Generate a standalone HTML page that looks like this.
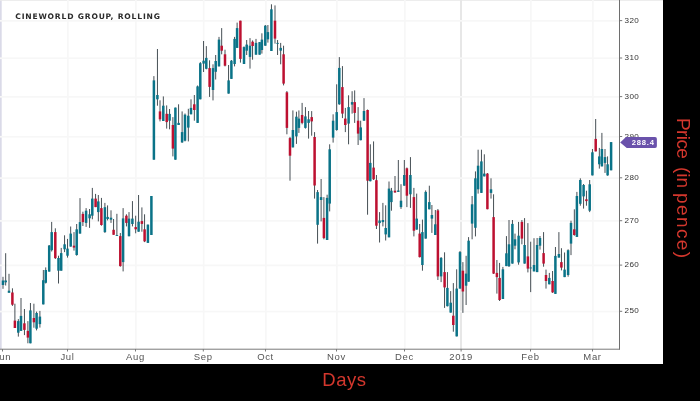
<!DOCTYPE html>
<html><head><meta charset="utf-8"><title>Cineworld Group, Rolling</title>
<style>
html,body{margin:0;padding:0;background:#000;}
body{width:700px;height:401px;overflow:hidden;position:relative;font-family:"Liberation Sans",sans-serif;}
#chart{position:absolute;left:0;top:0;width:663px;height:364px;background:#fff;overflow:hidden;}
#chart svg{position:absolute;left:0;top:0;}
.ttl{position:absolute;left:15.3px;top:10.5px;font-family:"DejaVu Sans","Liberation Sans",sans-serif;font-size:7.6px;font-weight:bold;color:#2b2b2b;letter-spacing:0.8px;white-space:nowrap;line-height:12px;}
.xl{position:absolute;top:351px;width:40px;margin-left:-20px;text-align:center;font-size:9.5px;color:#555;line-height:12px;letter-spacing:0.65px;}
.yl{position:absolute;left:624.6px;font-size:8.1px;color:#333;line-height:10px;height:10px;margin-top:-5.0px;letter-spacing:0.38px;}
.tag{position:absolute;left:620.2px;top:137px;width:36.7px;height:11px;background:#6a52ab;border-radius:0 2px 2px 0;color:#fff;font-size:7.6px;font-weight:bold;line-height:11.3px;text-align:left;letter-spacing:0.8px;box-sizing:border-box;padding-left:11.6px;white-space:nowrap;clip-path:polygon(0 50%,5.8px 0,100% 0,100% 100%,6.6px 100%);}
#days{position:absolute;left:0;width:688.8px;top:369.3px;text-align:center;color:#d4372d;font-size:18.5px;letter-spacing:0.5px;line-height:22px;}
.pv{position:absolute;left:672.2px;width:22px;writing-mode:vertical-rl;white-space:nowrap;color:#d4372d;font-size:19px;line-height:22px;}
</style></head><body>
<div id="chart">
<svg width="663" height="364" viewBox="0 0 663 364">
<rect x="0" y="0" width="1.7" height="349" fill="#dadae8"/><rect x="0" y="0" width="663" height="0.8" fill="#e9e9e9"/><rect x="67.05" y="0" width="1.7" height="349" fill="#f7f7f7"/><rect x="135.05" y="0" width="1.7" height="349" fill="#f7f7f7"/><rect x="202.85" y="0" width="1.7" height="349" fill="#f7f7f7"/><rect x="265.05" y="0" width="1.7" height="349" fill="#f7f7f7"/><rect x="336.05" y="0" width="1.7" height="349" fill="#f7f7f7"/><rect x="404.05" y="0" width="1.7" height="349" fill="#f7f7f7"/><rect x="460.00" y="0" width="2.0" height="349" fill="#e7e7e7"/><rect x="530.05" y="0" width="1.7" height="349" fill="#f7f7f7"/><rect x="592.05" y="0" width="1.7" height="349" fill="#f7f7f7"/><rect x="0" y="20.00" width="619" height="1.7" fill="#f7f7f7"/><rect x="0" y="57.39" width="619" height="1.7" fill="#f7f7f7"/><rect x="0" y="96.00" width="619" height="1.7" fill="#f7f7f7"/><rect x="0" y="135.92" width="619" height="1.7" fill="#f7f7f7"/><rect x="0" y="177.25" width="619" height="1.7" fill="#f7f7f7"/><rect x="0" y="220.07" width="619" height="1.7" fill="#f7f7f7"/><rect x="0" y="264.52" width="619" height="1.7" fill="#f7f7f7"/><rect x="0" y="310.70" width="619" height="1.7" fill="#f7f7f7"/><rect x="2.55" y="276.8" width="0.9" height="12.0" fill="#333d43"/><rect x="1.75" y="280.5" width="2.5" height="4.5" fill="#0a7388"/><rect x="5.25" y="253.2" width="0.9" height="32.3" fill="#333d43"/><rect x="4.45" y="280.5" width="2.5" height="1.8" fill="#0a7388"/><rect x="8.55" y="273.8" width="0.9" height="18.8" fill="#333d43"/><rect x="7.75" y="290.7" width="2.5" height="2.1" fill="#0a7388"/><rect x="11.95" y="288.3" width="0.9" height="17.6" fill="#333d43"/><rect x="11.15" y="292.5" width="2.5" height="12.2" fill="#bd1030"/><rect x="14.45" y="303.7" width="0.9" height="24.3" fill="#333d43"/><rect x="13.65" y="320.6" width="2.5" height="7.4" fill="#bd1030"/><rect x="17.85" y="319.1" width="0.9" height="17.5" fill="#333d43"/><rect x="17.05" y="321.1" width="2.5" height="11.6" fill="#0a7388"/><rect x="20.55" y="298.0" width="0.9" height="32.9" fill="#333d43"/><rect x="19.75" y="315.9" width="2.5" height="15.0" fill="#0a7388"/><rect x="23.95" y="309.0" width="0.9" height="26.1" fill="#333d43"/><rect x="23.15" y="323.3" width="2.5" height="6.6" fill="#bd1030"/><rect x="27.45" y="321.1" width="0.9" height="22.2" fill="#333d43"/><rect x="26.65" y="330.9" width="2.5" height="6.7" fill="#bd1030"/><rect x="29.95" y="303.0" width="0.9" height="40.3" fill="#333d43"/><rect x="29.15" y="310.4" width="2.5" height="32.9" fill="#0a7388"/><rect x="33.45" y="303.7" width="0.9" height="24.0" fill="#333d43"/><rect x="32.65" y="318.0" width="2.5" height="4.3" fill="#bd1030"/><rect x="36.15" y="311.6" width="0.9" height="18.8" fill="#333d43"/><rect x="35.35" y="313.0" width="2.5" height="15.7" fill="#0a7388"/><rect x="39.45" y="310.9" width="0.9" height="16.7" fill="#333d43"/><rect x="38.65" y="316.6" width="2.5" height="7.5" fill="#0a7388"/><rect x="42.85" y="270.0" width="0.9" height="34.4" fill="#333d43"/><rect x="42.05" y="280.2" width="2.5" height="24.2" fill="#0a7388"/><rect x="45.30" y="267.4" width="0.9" height="16.1" fill="#333d43"/><rect x="44.50" y="270.0" width="2.5" height="12.8" fill="#0a7388"/><rect x="48.75" y="245.0" width="0.9" height="26.6" fill="#333d43"/><rect x="47.95" y="245.5" width="2.5" height="26.1" fill="#0a7388"/><rect x="51.25" y="221.9" width="0.9" height="29.6" fill="#333d43"/><rect x="50.45" y="232.1" width="2.5" height="18.1" fill="#0a7388"/><rect x="54.85" y="228.3" width="0.9" height="30.7" fill="#333d43"/><rect x="54.05" y="232.1" width="2.5" height="26.0" fill="#bd1030"/><rect x="58.05" y="255.7" width="0.9" height="27.8" fill="#333d43"/><rect x="57.25" y="258.0" width="2.5" height="12.7" fill="#0a7388"/><rect x="60.75" y="247.9" width="0.9" height="22.8" fill="#333d43"/><rect x="59.95" y="253.1" width="2.5" height="17.6" fill="#0a7388"/><rect x="64.15" y="235.3" width="0.9" height="16.8" fill="#333d43"/><rect x="63.35" y="244.3" width="2.5" height="5.0" fill="#0a7388"/><rect x="67.05" y="238.9" width="0.9" height="18.7" fill="#333d43"/><rect x="66.25" y="248.6" width="2.5" height="7.1" fill="#0a7388"/><rect x="70.25" y="226.5" width="0.9" height="20.1" fill="#333d43"/><rect x="69.45" y="233.6" width="2.5" height="13.0" fill="#0a7388"/><rect x="73.55" y="232.1" width="0.9" height="18.5" fill="#333d43"/><rect x="72.75" y="245.7" width="2.5" height="1.9" fill="#bd1030"/><rect x="76.25" y="224.0" width="0.9" height="31.7" fill="#333d43"/><rect x="75.45" y="229.3" width="2.5" height="25.7" fill="#0a7388"/><rect x="79.55" y="198.1" width="0.9" height="35.5" fill="#333d43"/><rect x="78.75" y="222.1" width="2.5" height="11.5" fill="#0a7388"/><rect x="82.45" y="211.7" width="0.9" height="14.3" fill="#333d43"/><rect x="81.65" y="213.9" width="2.5" height="8.2" fill="#bd1030"/><rect x="85.65" y="208.1" width="0.9" height="18.8" fill="#333d43"/><rect x="84.85" y="210.7" width="2.5" height="12.2" fill="#0a7388"/><rect x="89.15" y="209.0" width="0.9" height="18.9" fill="#333d43"/><rect x="88.35" y="214.3" width="2.5" height="4.0" fill="#0a7388"/><rect x="91.85" y="187.9" width="0.9" height="31.4" fill="#333d43"/><rect x="91.05" y="198.6" width="2.5" height="17.1" fill="#0a7388"/><rect x="95.15" y="193.9" width="0.9" height="13.2" fill="#333d43"/><rect x="94.35" y="198.6" width="2.5" height="8.5" fill="#bd1030"/><rect x="97.85" y="195.0" width="0.9" height="26.4" fill="#333d43"/><rect x="97.05" y="201.4" width="2.5" height="10.7" fill="#0a7388"/><rect x="100.95" y="197.9" width="0.9" height="27.8" fill="#333d43"/><rect x="100.15" y="208.1" width="2.5" height="16.9" fill="#bd1030"/><rect x="104.45" y="202.9" width="0.9" height="30.0" fill="#333d43"/><rect x="103.65" y="207.2" width="2.5" height="24.9" fill="#0a7388"/><rect x="107.15" y="205.4" width="0.9" height="15.0" fill="#333d43"/><rect x="106.35" y="216.9" width="2.5" height="2.1" fill="#0a7388"/><rect x="110.55" y="210.3" width="0.9" height="12.6" fill="#333d43"/><rect x="109.75" y="217.7" width="2.5" height="2.0" fill="#0a7388"/><rect x="113.15" y="219.0" width="0.9" height="15.8" fill="#333d43"/><rect x="112.35" y="229.8" width="2.5" height="5.0" fill="#bd1030"/><rect x="116.45" y="213.8" width="0.9" height="21.9" fill="#333d43"/><rect x="115.65" y="235.0" width="2.5" height="0.9" fill="#0a7388"/><rect x="119.85" y="233.0" width="0.9" height="33.7" fill="#333d43"/><rect x="119.05" y="236.1" width="2.5" height="30.0" fill="#bd1030"/><rect x="122.65" y="208.1" width="0.9" height="63.3" fill="#333d43"/><rect x="121.85" y="218.4" width="2.5" height="43.7" fill="#0a7388"/><rect x="125.95" y="214.3" width="0.9" height="12.1" fill="#333d43"/><rect x="125.15" y="215.7" width="2.5" height="7.2" fill="#bd1030"/><rect x="128.55" y="212.1" width="0.9" height="24.3" fill="#333d43"/><rect x="127.75" y="218.6" width="2.5" height="17.6" fill="#0a7388"/><rect x="131.95" y="201.1" width="0.9" height="25.3" fill="#333d43"/><rect x="131.15" y="218.6" width="2.5" height="5.4" fill="#0a7388"/><rect x="135.25" y="215.7" width="0.9" height="17.6" fill="#333d43"/><rect x="134.45" y="227.1" width="2.5" height="2.2" fill="#bd1030"/><rect x="138.15" y="195.0" width="0.9" height="36.7" fill="#333d43"/><rect x="137.35" y="221.7" width="2.5" height="10.0" fill="#0a7388"/><rect x="141.45" y="207.4" width="0.9" height="24.3" fill="#333d43"/><rect x="140.65" y="221.1" width="2.5" height="2.8" fill="#bd1030"/><rect x="144.15" y="214.3" width="0.9" height="27.8" fill="#333d43"/><rect x="143.35" y="229.3" width="2.5" height="12.1" fill="#bd1030"/><rect x="147.45" y="224.6" width="0.9" height="18.3" fill="#333d43"/><rect x="146.65" y="224.6" width="2.5" height="18.3" fill="#0a7388"/><rect x="150.95" y="196.0" width="0.9" height="39.0" fill="#333d43"/><rect x="150.15" y="196.0" width="2.5" height="39.0" fill="#0a7388"/><rect x="153.45" y="76.1" width="0.9" height="83.6" fill="#333d43"/><rect x="152.65" y="80.4" width="2.5" height="79.3" fill="#0a7388"/><rect x="156.95" y="49.0" width="0.9" height="56.7" fill="#333d43"/><rect x="156.15" y="95.0" width="2.5" height="4.3" fill="#0a7388"/><rect x="159.55" y="100.3" width="0.9" height="21.1" fill="#333d43"/><rect x="158.75" y="111.4" width="2.5" height="7.9" fill="#bd1030"/><rect x="162.85" y="96.4" width="0.9" height="24.6" fill="#333d43"/><rect x="162.05" y="105.7" width="2.5" height="15.3" fill="#0a7388"/><rect x="166.25" y="105.4" width="0.9" height="23.2" fill="#333d43"/><rect x="165.45" y="113.8" width="2.5" height="8.3" fill="#bd1030"/><rect x="169.15" y="109.0" width="0.9" height="20.3" fill="#333d43"/><rect x="168.35" y="113.9" width="2.5" height="6.8" fill="#0a7388"/><rect x="172.45" y="117.1" width="0.9" height="39.3" fill="#333d43"/><rect x="171.65" y="125.0" width="2.5" height="23.6" fill="#bd1030"/><rect x="174.95" y="107.6" width="0.9" height="52.1" fill="#333d43"/><rect x="174.15" y="107.6" width="2.5" height="52.1" fill="#0a7388"/><rect x="178.15" y="104.3" width="0.9" height="20.7" fill="#333d43"/><rect x="177.35" y="122.9" width="2.5" height="2.1" fill="#0a7388"/><rect x="181.65" y="111.4" width="0.9" height="31.5" fill="#333d43"/><rect x="180.85" y="132.1" width="2.5" height="10.3" fill="#0a7388"/><rect x="184.55" y="113.5" width="0.9" height="27.9" fill="#333d43"/><rect x="183.75" y="114.7" width="2.5" height="26.0" fill="#0a7388"/><rect x="187.85" y="108.8" width="0.9" height="32.6" fill="#333d43"/><rect x="187.05" y="115.7" width="2.5" height="11.9" fill="#0a7388"/><rect x="190.55" y="99.3" width="0.9" height="15.0" fill="#333d43"/><rect x="189.75" y="107.9" width="2.5" height="6.4" fill="#0a7388"/><rect x="193.85" y="95.0" width="0.9" height="25.7" fill="#333d43"/><rect x="193.05" y="104.3" width="2.5" height="5.7" fill="#bd1030"/><rect x="197.15" y="85.5" width="0.9" height="37.4" fill="#333d43"/><rect x="196.35" y="86.4" width="2.5" height="36.5" fill="#0a7388"/><rect x="199.85" y="62.1" width="0.9" height="37.2" fill="#333d43"/><rect x="199.05" y="63.2" width="2.5" height="36.1" fill="#0a7388"/><rect x="203.15" y="41.0" width="0.9" height="31.0" fill="#333d43"/><rect x="202.35" y="60.7" width="2.5" height="2.9" fill="#0a7388"/><rect x="205.85" y="46.1" width="0.9" height="23.2" fill="#333d43"/><rect x="205.05" y="57.9" width="2.5" height="10.9" fill="#0a7388"/><rect x="209.15" y="60.3" width="0.9" height="36.6" fill="#333d43"/><rect x="208.35" y="68.1" width="2.5" height="18.8" fill="#bd1030"/><rect x="212.55" y="64.3" width="0.9" height="36.1" fill="#333d43"/><rect x="211.75" y="68.1" width="2.5" height="21.9" fill="#0a7388"/><rect x="215.25" y="55.0" width="0.9" height="24.5" fill="#333d43"/><rect x="214.45" y="61.0" width="2.5" height="10.8" fill="#0a7388"/><rect x="218.55" y="36.9" width="0.9" height="29.5" fill="#333d43"/><rect x="217.75" y="39.6" width="2.5" height="26.8" fill="#0a7388"/><rect x="221.25" y="28.1" width="0.9" height="26.2" fill="#333d43"/><rect x="220.45" y="45.7" width="2.5" height="5.0" fill="#bd1030"/><rect x="224.55" y="49.7" width="0.9" height="16.7" fill="#333d43"/><rect x="223.75" y="54.3" width="2.5" height="11.4" fill="#bd1030"/><rect x="228.15" y="65.0" width="0.9" height="28.6" fill="#333d43"/><rect x="227.35" y="80.4" width="2.5" height="13.2" fill="#0a7388"/><rect x="230.95" y="60.0" width="0.9" height="18.9" fill="#333d43"/><rect x="230.15" y="60.7" width="2.5" height="18.2" fill="#0a7388"/><rect x="234.15" y="36.9" width="0.9" height="29.5" fill="#333d43"/><rect x="233.35" y="38.9" width="2.5" height="25.1" fill="#0a7388"/><rect x="236.65" y="22.6" width="0.9" height="25.3" fill="#333d43"/><rect x="235.85" y="28.1" width="2.5" height="19.8" fill="#0a7388"/><rect x="239.95" y="20.7" width="0.9" height="41.9" fill="#333d43"/><rect x="239.15" y="20.7" width="2.5" height="38.2" fill="#bd1030"/><rect x="243.55" y="46.4" width="0.9" height="17.6" fill="#333d43"/><rect x="242.75" y="47.1" width="2.5" height="16.9" fill="#0a7388"/><rect x="246.25" y="40.0" width="0.9" height="15.0" fill="#333d43"/><rect x="245.45" y="44.6" width="2.5" height="6.1" fill="#0a7388"/><rect x="249.55" y="38.1" width="0.9" height="30.5" fill="#333d43"/><rect x="248.75" y="45.7" width="2.5" height="11.2" fill="#0a7388"/><rect x="252.15" y="40.4" width="0.9" height="19.3" fill="#333d43"/><rect x="251.35" y="41.7" width="2.5" height="4.3" fill="#bd1030"/><rect x="255.55" y="38.9" width="0.9" height="15.8" fill="#333d43"/><rect x="254.75" y="42.9" width="2.5" height="11.8" fill="#0a7388"/><rect x="259.15" y="42.1" width="0.9" height="12.6" fill="#333d43"/><rect x="258.35" y="42.1" width="2.5" height="12.6" fill="#0a7388"/><rect x="261.45" y="33.3" width="0.9" height="20.3" fill="#333d43"/><rect x="260.65" y="39.6" width="2.5" height="10.4" fill="#0a7388"/><rect x="264.85" y="25.0" width="0.9" height="20.7" fill="#333d43"/><rect x="264.05" y="25.7" width="2.5" height="20.0" fill="#0a7388"/><rect x="267.45" y="25.0" width="0.9" height="17.6" fill="#333d43"/><rect x="266.65" y="32.1" width="2.5" height="7.2" fill="#0a7388"/><rect x="270.95" y="4.3" width="0.9" height="46.7" fill="#333d43"/><rect x="270.15" y="9.3" width="2.5" height="41.7" fill="#0a7388"/><rect x="274.55" y="5.4" width="0.9" height="38.2" fill="#333d43"/><rect x="273.75" y="20.7" width="2.5" height="17.9" fill="#bd1030"/><rect x="277.15" y="40.0" width="0.9" height="15.0" fill="#333d43"/><rect x="276.35" y="42.9" width="2.5" height="0.9" fill="#0a7388"/><rect x="280.25" y="42.9" width="0.9" height="21.4" fill="#333d43"/><rect x="279.45" y="47.9" width="2.5" height="2.8" fill="#0a7388"/><rect x="283.15" y="45.7" width="0.9" height="39.7" fill="#333d43"/><rect x="282.35" y="54.3" width="2.5" height="29.3" fill="#bd1030"/><rect x="286.45" y="91.0" width="0.9" height="43.3" fill="#333d43"/><rect x="285.65" y="92.3" width="2.5" height="35.6" fill="#bd1030"/><rect x="289.55" y="136.9" width="0.9" height="43.8" fill="#333d43"/><rect x="288.75" y="138.1" width="2.5" height="17.6" fill="#bd1030"/><rect x="292.45" y="110.4" width="0.9" height="37.0" fill="#333d43"/><rect x="291.65" y="130.0" width="2.5" height="17.4" fill="#0a7388"/><rect x="295.95" y="111.7" width="0.9" height="32.2" fill="#333d43"/><rect x="295.15" y="116.7" width="2.5" height="19.7" fill="#0a7388"/><rect x="298.45" y="110.4" width="0.9" height="22.5" fill="#333d43"/><rect x="297.65" y="118.6" width="2.5" height="9.3" fill="#0a7388"/><rect x="301.65" y="102.9" width="0.9" height="21.4" fill="#333d43"/><rect x="300.85" y="115.0" width="2.5" height="7.9" fill="#bd1030"/><rect x="304.95" y="107.1" width="0.9" height="21.5" fill="#333d43"/><rect x="304.15" y="116.4" width="2.5" height="11.5" fill="#0a7388"/><rect x="308.15" y="111.0" width="0.9" height="27.6" fill="#333d43"/><rect x="307.35" y="119.3" width="2.5" height="3.6" fill="#0a7388"/><rect x="311.25" y="111.1" width="0.9" height="24.6" fill="#333d43"/><rect x="310.45" y="117.1" width="2.5" height="4.3" fill="#bd1030"/><rect x="314.15" y="132.1" width="0.9" height="66.5" fill="#333d43"/><rect x="313.35" y="137.0" width="2.5" height="48.5" fill="#bd1030"/><rect x="317.15" y="190.0" width="0.9" height="53.6" fill="#333d43"/><rect x="316.35" y="192.1" width="2.5" height="32.7" fill="#0a7388"/><rect x="320.65" y="179.0" width="0.9" height="42.4" fill="#333d43"/><rect x="319.85" y="197.1" width="2.5" height="2.9" fill="#0a7388"/><rect x="323.45" y="197.1" width="0.9" height="42.2" fill="#333d43"/><rect x="322.65" y="217.9" width="2.5" height="20.2" fill="#bd1030"/><rect x="326.65" y="194.7" width="0.9" height="45.3" fill="#333d43"/><rect x="325.85" y="197.9" width="2.5" height="42.1" fill="#0a7388"/><rect x="329.25" y="144.3" width="0.9" height="67.1" fill="#333d43"/><rect x="328.45" y="149.3" width="2.5" height="54.3" fill="#0a7388"/><rect x="332.65" y="114.3" width="0.9" height="28.3" fill="#333d43"/><rect x="331.85" y="120.7" width="2.5" height="16.9" fill="#0a7388"/><rect x="336.25" y="84.3" width="0.9" height="46.4" fill="#333d43"/><rect x="335.45" y="112.1" width="2.5" height="17.9" fill="#0a7388"/><rect x="338.85" y="57.1" width="0.9" height="47.7" fill="#333d43"/><rect x="338.05" y="67.9" width="2.5" height="36.4" fill="#0a7388"/><rect x="341.95" y="66.1" width="0.9" height="52.0" fill="#333d43"/><rect x="341.15" y="87.1" width="2.5" height="26.5" fill="#bd1030"/><rect x="344.85" y="107.9" width="0.9" height="24.2" fill="#333d43"/><rect x="344.05" y="118.6" width="2.5" height="6.4" fill="#bd1030"/><rect x="348.15" y="95.3" width="0.9" height="49.0" fill="#333d43"/><rect x="347.35" y="107.1" width="2.5" height="16.5" fill="#0a7388"/><rect x="351.65" y="91.2" width="0.9" height="22.4" fill="#333d43"/><rect x="350.85" y="102.1" width="2.5" height="2.5" fill="#0a7388"/><rect x="354.25" y="90.4" width="0.9" height="32.5" fill="#333d43"/><rect x="353.45" y="102.1" width="2.5" height="10.8" fill="#bd1030"/><rect x="357.65" y="107.1" width="0.9" height="37.9" fill="#333d43"/><rect x="356.85" y="120.7" width="2.5" height="12.9" fill="#bd1030"/><rect x="360.25" y="120.7" width="0.9" height="19.6" fill="#333d43"/><rect x="359.45" y="127.4" width="2.5" height="12.8" fill="#0a7388"/><rect x="363.55" y="98.1" width="0.9" height="22.6" fill="#333d43"/><rect x="362.75" y="111.0" width="2.5" height="9.7" fill="#0a7388"/><rect x="367.15" y="109.5" width="0.9" height="105.2" fill="#333d43"/><rect x="366.35" y="110.0" width="2.5" height="70.7" fill="#bd1030"/><rect x="369.85" y="144.3" width="0.9" height="37.1" fill="#333d43"/><rect x="369.05" y="162.9" width="2.5" height="18.3" fill="#0a7388"/><rect x="373.15" y="141.4" width="0.9" height="38.6" fill="#333d43"/><rect x="372.35" y="167.6" width="2.5" height="11.7" fill="#bd1030"/><rect x="375.95" y="175.0" width="0.9" height="54.0" fill="#333d43"/><rect x="375.15" y="180.2" width="2.5" height="45.5" fill="#bd1030"/><rect x="379.15" y="212.1" width="0.9" height="30.4" fill="#333d43"/><rect x="378.35" y="220.5" width="2.5" height="2.6" fill="#0a7388"/><rect x="382.45" y="202.9" width="0.9" height="23.5" fill="#333d43"/><rect x="381.65" y="220.0" width="2.5" height="2.1" fill="#0a7388"/><rect x="385.25" y="205.3" width="0.9" height="35.2" fill="#333d43"/><rect x="384.45" y="228.0" width="2.5" height="6.4" fill="#0a7388"/><rect x="388.55" y="181.5" width="0.9" height="55.9" fill="#333d43"/><rect x="387.75" y="188.6" width="2.5" height="48.7" fill="#0a7388"/><rect x="390.95" y="187.9" width="0.9" height="22.8" fill="#333d43"/><rect x="390.15" y="190.7" width="2.5" height="11.4" fill="#0a7388"/><rect x="394.55" y="176.0" width="0.9" height="16.9" fill="#333d43"/><rect x="393.75" y="190.7" width="2.5" height="1.7" fill="#bd1030"/><rect x="397.85" y="160.0" width="0.9" height="31.9" fill="#333d43"/><rect x="397.05" y="190.5" width="2.5" height="1.4" fill="#0a7388"/><rect x="400.55" y="184.2" width="0.9" height="24.7" fill="#333d43"/><rect x="399.75" y="200.7" width="2.5" height="6.4" fill="#0a7388"/><rect x="403.85" y="160.0" width="0.9" height="25.7" fill="#333d43"/><rect x="403.05" y="175.0" width="2.5" height="10.7" fill="#0a7388"/><rect x="406.45" y="167.5" width="0.9" height="39.6" fill="#333d43"/><rect x="405.65" y="168.3" width="2.5" height="27.4" fill="#bd1030"/><rect x="409.95" y="157.1" width="0.9" height="50.8" fill="#333d43"/><rect x="409.15" y="175.0" width="2.5" height="19.3" fill="#0a7388"/><rect x="413.45" y="187.9" width="0.9" height="48.5" fill="#333d43"/><rect x="412.65" y="197.1" width="2.5" height="33.6" fill="#bd1030"/><rect x="416.25" y="193.6" width="0.9" height="36.1" fill="#333d43"/><rect x="415.45" y="218.6" width="2.5" height="11.0" fill="#0a7388"/><rect x="419.25" y="224.0" width="0.9" height="33.5" fill="#333d43"/><rect x="418.45" y="233.6" width="2.5" height="23.5" fill="#bd1030"/><rect x="421.95" y="219.6" width="0.9" height="51.1" fill="#333d43"/><rect x="421.15" y="232.1" width="2.5" height="32.9" fill="#0a7388"/><rect x="425.25" y="190.4" width="0.9" height="48.2" fill="#333d43"/><rect x="424.45" y="191.9" width="2.5" height="46.7" fill="#0a7388"/><rect x="428.85" y="185.7" width="0.9" height="23.6" fill="#333d43"/><rect x="428.05" y="202.1" width="2.5" height="7.2" fill="#0a7388"/><rect x="431.45" y="205.0" width="0.9" height="27.9" fill="#333d43"/><rect x="430.65" y="215.0" width="2.5" height="3.6" fill="#0a7388"/><rect x="434.85" y="210.0" width="0.9" height="25.0" fill="#333d43"/><rect x="434.05" y="224.3" width="2.5" height="10.7" fill="#0a7388"/><rect x="437.45" y="209.0" width="0.9" height="71.0" fill="#333d43"/><rect x="436.65" y="210.4" width="2.5" height="66.0" fill="#bd1030"/><rect x="440.65" y="257.0" width="0.9" height="25.1" fill="#333d43"/><rect x="439.85" y="257.9" width="2.5" height="18.5" fill="#0a7388"/><rect x="444.15" y="252.3" width="0.9" height="55.6" fill="#333d43"/><rect x="443.35" y="272.1" width="2.5" height="15.3" fill="#bd1030"/><rect x="446.95" y="272.1" width="0.9" height="34.3" fill="#333d43"/><rect x="446.15" y="287.9" width="2.5" height="18.3" fill="#0a7388"/><rect x="450.25" y="291.1" width="0.9" height="21.5" fill="#333d43"/><rect x="449.45" y="302.7" width="2.5" height="9.9" fill="#0a7388"/><rect x="452.85" y="283.1" width="0.9" height="48.6" fill="#333d43"/><rect x="452.05" y="315.7" width="2.5" height="9.3" fill="#bd1030"/><rect x="456.25" y="269.3" width="0.9" height="67.1" fill="#333d43"/><rect x="455.45" y="288.6" width="2.5" height="47.8" fill="#0a7388"/><rect x="459.55" y="251.0" width="0.9" height="37.6" fill="#333d43"/><rect x="458.75" y="252.1" width="2.5" height="36.5" fill="#0a7388"/><rect x="462.45" y="262.1" width="0.9" height="50.8" fill="#333d43"/><rect x="461.65" y="270.7" width="2.5" height="20.8" fill="#bd1030"/><rect x="465.65" y="255.8" width="0.9" height="49.2" fill="#333d43"/><rect x="464.85" y="273.6" width="2.5" height="12.1" fill="#0a7388"/><rect x="468.15" y="237.1" width="0.9" height="44.6" fill="#333d43"/><rect x="467.35" y="240.7" width="2.5" height="41.0" fill="#0a7388"/><rect x="471.65" y="196.0" width="0.9" height="43.3" fill="#333d43"/><rect x="470.85" y="204.3" width="2.5" height="19.3" fill="#0a7388"/><rect x="474.95" y="171.4" width="0.9" height="65.0" fill="#333d43"/><rect x="474.15" y="178.3" width="2.5" height="49.5" fill="#0a7388"/><rect x="477.65" y="149.7" width="0.9" height="43.9" fill="#333d43"/><rect x="476.85" y="165.7" width="2.5" height="23.6" fill="#0a7388"/><rect x="480.95" y="149.7" width="0.9" height="43.2" fill="#333d43"/><rect x="480.15" y="161.4" width="2.5" height="31.5" fill="#0a7388"/><rect x="483.85" y="154.3" width="0.9" height="22.1" fill="#333d43"/><rect x="483.05" y="173.6" width="2.5" height="2.8" fill="#0a7388"/><rect x="486.95" y="173.0" width="0.9" height="36.3" fill="#333d43"/><rect x="486.15" y="173.6" width="2.5" height="35.6" fill="#bd1030"/><rect x="490.55" y="178.3" width="0.9" height="20.3" fill="#333d43"/><rect x="489.75" y="189.3" width="2.5" height="3.6" fill="#0a7388"/><rect x="493.15" y="194.3" width="0.9" height="79.7" fill="#333d43"/><rect x="492.35" y="217.1" width="2.5" height="56.5" fill="#bd1030"/><rect x="496.45" y="260.0" width="0.9" height="33.6" fill="#333d43"/><rect x="495.65" y="272.9" width="2.5" height="4.2" fill="#bd1030"/><rect x="499.15" y="262.9" width="0.9" height="38.1" fill="#333d43"/><rect x="498.35" y="277.9" width="2.5" height="22.1" fill="#bd1030"/><rect x="502.45" y="266.9" width="0.9" height="32.1" fill="#333d43"/><rect x="501.65" y="269.3" width="2.5" height="29.7" fill="#0a7388"/><rect x="505.95" y="236.1" width="0.9" height="30.0" fill="#333d43"/><rect x="505.15" y="253.3" width="2.5" height="12.8" fill="#0a7388"/><rect x="508.55" y="220.0" width="0.9" height="47.0" fill="#333d43"/><rect x="507.75" y="244.3" width="2.5" height="21.9" fill="#0a7388"/><rect x="511.95" y="220.0" width="0.9" height="43.6" fill="#333d43"/><rect x="511.15" y="223.9" width="2.5" height="39.7" fill="#0a7388"/><rect x="514.55" y="233.6" width="0.9" height="15.7" fill="#333d43"/><rect x="513.75" y="239.3" width="2.5" height="6.4" fill="#0a7388"/><rect x="518.15" y="221.9" width="0.9" height="42.8" fill="#333d43"/><rect x="517.35" y="235.7" width="2.5" height="26.7" fill="#0a7388"/><rect x="521.45" y="220.0" width="0.9" height="24.3" fill="#333d43"/><rect x="520.65" y="221.9" width="2.5" height="16.7" fill="#bd1030"/><rect x="524.15" y="218.1" width="0.9" height="45.5" fill="#333d43"/><rect x="523.35" y="245.0" width="2.5" height="18.6" fill="#0a7388"/><rect x="527.45" y="223.1" width="0.9" height="49.3" fill="#333d43"/><rect x="526.65" y="256.4" width="2.5" height="12.2" fill="#bd1030"/><rect x="530.25" y="241.7" width="0.9" height="50.4" fill="#333d43"/><rect x="529.45" y="267.5" width="2.5" height="0.9" fill="#0a7388"/><rect x="533.55" y="238.2" width="0.9" height="33.2" fill="#333d43"/><rect x="532.75" y="265.0" width="2.5" height="6.4" fill="#0a7388"/><rect x="536.65" y="238.0" width="0.9" height="34.1" fill="#333d43"/><rect x="535.85" y="245.0" width="2.5" height="27.1" fill="#0a7388"/><rect x="539.55" y="236.0" width="0.9" height="13.6" fill="#333d43"/><rect x="538.75" y="238.0" width="2.5" height="7.7" fill="#0a7388"/><rect x="543.15" y="232.1" width="0.9" height="34.6" fill="#333d43"/><rect x="542.35" y="253.1" width="2.5" height="10.5" fill="#bd1030"/><rect x="545.55" y="269.6" width="0.9" height="19.0" fill="#333d43"/><rect x="544.75" y="275.0" width="2.5" height="6.0" fill="#bd1030"/><rect x="548.85" y="272.9" width="0.9" height="11.4" fill="#333d43"/><rect x="548.05" y="277.9" width="2.5" height="6.4" fill="#0a7388"/><rect x="552.15" y="271.0" width="0.9" height="21.9" fill="#333d43"/><rect x="551.35" y="281.0" width="2.5" height="11.4" fill="#bd1030"/><rect x="554.95" y="247.0" width="0.9" height="46.9" fill="#333d43"/><rect x="554.15" y="255.9" width="2.5" height="38.0" fill="#0a7388"/><rect x="558.45" y="232.1" width="0.9" height="25.5" fill="#333d43"/><rect x="557.65" y="254.0" width="2.5" height="3.6" fill="#0a7388"/><rect x="560.95" y="248.2" width="0.9" height="22.2" fill="#333d43"/><rect x="560.15" y="262.1" width="2.5" height="5.5" fill="#bd1030"/><rect x="564.15" y="252.5" width="0.9" height="24.6" fill="#333d43"/><rect x="563.35" y="269.6" width="2.5" height="7.5" fill="#0a7388"/><rect x="567.65" y="249.3" width="0.9" height="27.4" fill="#333d43"/><rect x="566.85" y="250.2" width="2.5" height="24.8" fill="#0a7388"/><rect x="570.55" y="220.7" width="0.9" height="34.4" fill="#333d43"/><rect x="569.75" y="222.9" width="2.5" height="20.7" fill="#0a7388"/><rect x="573.85" y="209.3" width="0.9" height="26.4" fill="#333d43"/><rect x="573.05" y="229.3" width="2.5" height="5.7" fill="#bd1030"/><rect x="576.45" y="191.9" width="0.9" height="45.0" fill="#333d43"/><rect x="575.65" y="196.0" width="2.5" height="40.9" fill="#0a7388"/><rect x="579.85" y="178.3" width="0.9" height="27.4" fill="#333d43"/><rect x="579.05" y="180.0" width="2.5" height="23.8" fill="#0a7388"/><rect x="583.15" y="184.0" width="0.9" height="24.6" fill="#333d43"/><rect x="582.35" y="185.0" width="2.5" height="11.4" fill="#0a7388"/><rect x="585.95" y="190.7" width="0.9" height="15.0" fill="#333d43"/><rect x="585.15" y="199.3" width="2.5" height="1.8" fill="#bd1030"/><rect x="589.25" y="180.0" width="0.9" height="32.1" fill="#333d43"/><rect x="588.45" y="184.3" width="2.5" height="26.4" fill="#0a7388"/><rect x="591.95" y="149.0" width="0.9" height="26.4" fill="#333d43"/><rect x="591.15" y="152.3" width="2.5" height="23.1" fill="#0a7388"/><rect x="595.25" y="119.0" width="0.9" height="32.4" fill="#333d43"/><rect x="594.45" y="138.9" width="2.5" height="12.5" fill="#bd1030"/><rect x="598.85" y="147.9" width="0.9" height="20.7" fill="#333d43"/><rect x="598.05" y="156.4" width="2.5" height="7.9" fill="#0a7388"/><rect x="601.45" y="132.9" width="0.9" height="33.5" fill="#333d43"/><rect x="600.65" y="149.0" width="2.5" height="17.4" fill="#0a7388"/><rect x="604.55" y="149.0" width="0.9" height="23.9" fill="#333d43"/><rect x="603.75" y="157.1" width="2.5" height="5.8" fill="#0a7388"/><rect x="607.15" y="156.4" width="0.9" height="19.3" fill="#333d43"/><rect x="606.35" y="164.3" width="2.5" height="11.1" fill="#0a7388"/><rect x="610.65" y="142.1" width="0.9" height="28.2" fill="#333d43"/><rect x="609.85" y="142.1" width="2.5" height="28.2" fill="#0a7388"/><rect x="619" y="0" width="1" height="349.5" fill="#6e6e6e"/><rect x="0" y="348.7" width="620" height="1" fill="#7a7a7a"/><rect x="2.0" y="349" width="1" height="2.5" fill="#7a7a7a"/><rect x="67.0" y="349" width="1" height="2.5" fill="#7a7a7a"/><rect x="135.0" y="349" width="1" height="2.5" fill="#7a7a7a"/><rect x="202.8" y="349" width="1" height="2.5" fill="#7a7a7a"/><rect x="265.0" y="349" width="1" height="2.5" fill="#7a7a7a"/><rect x="336.0" y="349" width="1" height="2.5" fill="#7a7a7a"/><rect x="404.0" y="349" width="1" height="2.5" fill="#7a7a7a"/><rect x="460.6" y="349" width="1" height="2.5" fill="#7a7a7a"/><rect x="530.0" y="349" width="1" height="2.5" fill="#7a7a7a"/><rect x="592.0" y="349" width="1" height="2.5" fill="#7a7a7a"/><rect x="620" y="20.1" width="2.2" height="1" fill="#7a7a7a"/><rect x="620" y="57.5" width="2.2" height="1" fill="#7a7a7a"/><rect x="620" y="96.1" width="2.2" height="1" fill="#7a7a7a"/><rect x="620" y="136.0" width="2.2" height="1" fill="#7a7a7a"/><rect x="620" y="177.3" width="2.2" height="1" fill="#7a7a7a"/><rect x="620" y="220.2" width="2.2" height="1" fill="#7a7a7a"/><rect x="620" y="264.6" width="2.2" height="1" fill="#7a7a7a"/><rect x="620" y="310.8" width="2.2" height="1" fill="#7a7a7a"/></svg>
<div class="ttl">CINEWORLD GROUP, ROLLING</div>
<div class="xl" style="left:2.5px">Jun</div><div class="xl" style="left:67.5px">Jul</div><div class="xl" style="left:135.5px">Aug</div><div class="xl" style="left:203.3px">Sep</div><div class="xl" style="left:265.5px">Oct</div><div class="xl" style="left:336.5px">Nov</div><div class="xl" style="left:404.5px">Dec</div><div class="xl" style="left:461.1px">2019</div><div class="xl" style="left:530.5px">Feb</div><div class="xl" style="left:592.5px">Mar</div>
<div class="yl" style="top:20.6px">320</div><div class="yl" style="top:58.0px">310</div><div class="yl" style="top:96.6px">300</div><div class="yl" style="top:136.5px">290</div><div class="yl" style="top:177.8px">280</div><div class="yl" style="top:220.7px">270</div><div class="yl" style="top:265.1px">260</div><div class="yl" style="top:311.3px">250</div>
<div class="tag">288.4</div>
</div>
<div id="days">Days</div>
<div class="pv" style="top:118px"><span style="letter-spacing:-0.6px">Price</span> <span style="margin-top:3.5px">(in</span> <span style="letter-spacing:1.4px;margin-top:-0.5px">pence)</span></div>
</body></html>
